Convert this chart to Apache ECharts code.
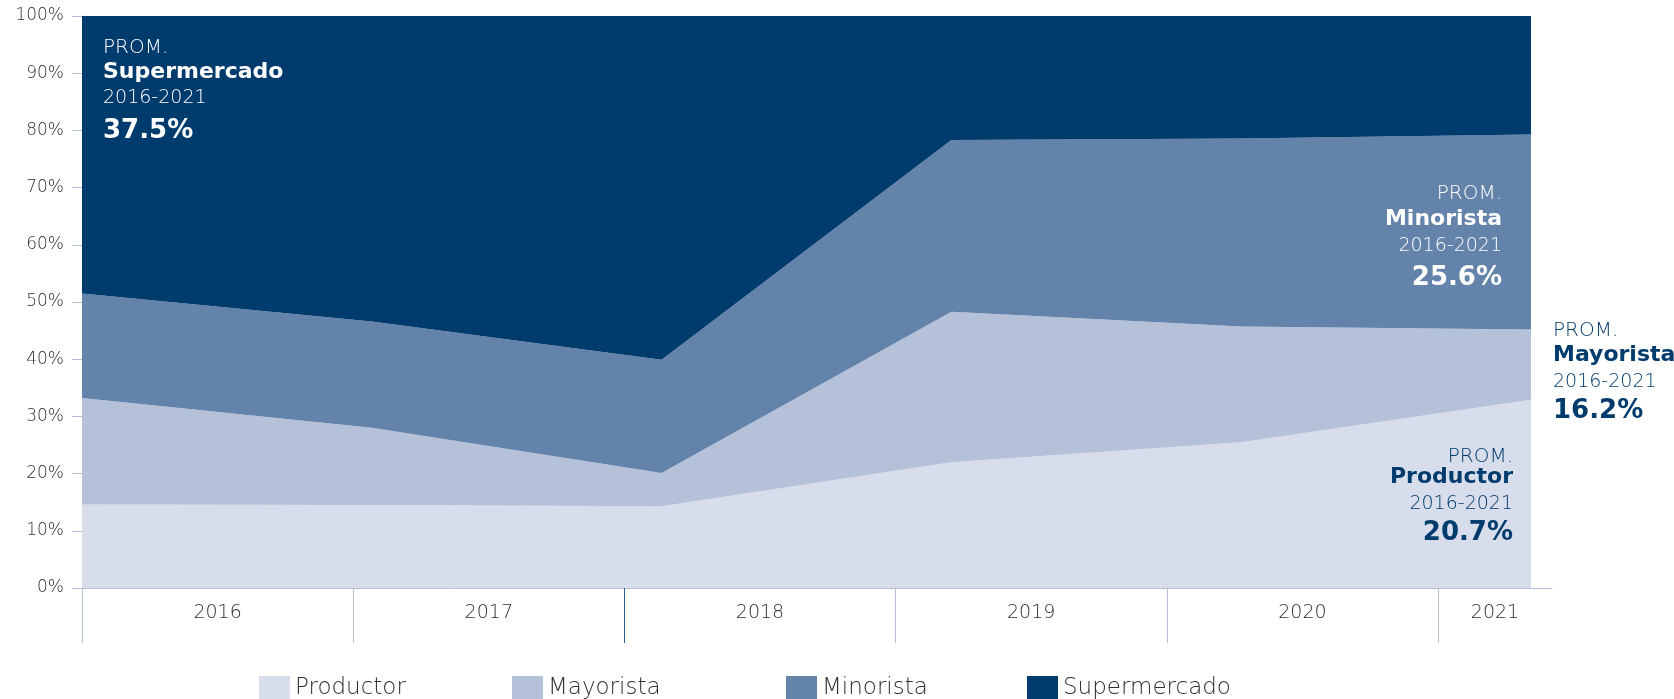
<!DOCTYPE html>
<html>
<head>
<meta charset="utf-8">
<script src="https://cdn.jsdelivr.net/npm/echarts@6/dist/echarts.min.js"></script>
<style>
  html, body { margin: 0; padding: 0; background: #fff; }
  #chart { width: 1674px; height: 699px; }
</style>
</head>
<body>
<div id="chart"></div>
<script>
// datos (% por canal)
const years = ['2016', '2017', '2018', '2019', '2020', '2021'];
const productor = [14.6, 14.5, 14.3, 22.0, 25.5, 32.9];
const mayorista = [18.6, 13.5, 5.8, 26.3, 20.2, 12.3];
const minorista = [18.3, 18.6, 19.8, 30.0, 32.9, 34.1];
const supermercado = [48.5, 53.4, 60.1, 21.7, 21.4, 20.7];
const names = ['Productor', 'Mayorista', 'Minorista', 'Supermercado'];
const promedios = ['20.7%', '16.2%', '25.6%', '37.5%'];
const periodo = '2016-2021';

const colors = ['#d7ddea', '#b5c1d9', '#6383aa', '#003b6d'];
const navy = '#003b6d';
const axisColor = '#b5c1d8';
const labelColor = '#2e2e2e';
const font = '"DejaVu Sans", sans-serif';

// eje de años: bandas de ancho fijo, la ultima recortada
const band = 271.2;
const axisWidth = 1470;
const bandMax = axisWidth / band;
const tickVals = years.map((y, i) => i);
const labelVals = years.map((y, i) => i < years.length - 1 ? i + 0.5 : (i + bandMax) / 2);

const chart = echarts.init(document.getElementById('chart'));

// bloque de texto "PROM."
function note(x, ys, align, color, name, avg) {
  const txt = [['PROM.', '200 20px'], [name, 'bold 22px'], [periodo, '200 19px'], [avg, 'bold 26px']];
  return txt.map((t, i) => ({
    type: 'text', x: x, y: ys[i], z: 100,
    style: {
      text: t[0], fill: color, font: t[1] + ' ' + font,
      align: align, textAlign: align, verticalAlign: 'middle', textVerticalAlign: 'middle'
    }
  }));
}

const seriesData = [productor, mayorista, minorista, supermercado];

function legendItem(i, left) {
  return {
    data: [names[i]], left: left, top: 676, padding: 0, icon: 'rect',
    itemWidth: 31, itemHeight: 24, itemGap: 0, selectedMode: false,
    textStyle: { fontSize: 23, color: labelColor, fontFamily: font, fontWeight: 200 }
  };
}

chart.setOption({
  animation: false,
  grid: [
    { left: 82, top: 16, width: 1449, height: 572, outerBoundsMode: 'none' },
    { left: 82, top: 16, width: axisWidth, height: 572, outerBoundsMode: 'none' }
  ],
  xAxis: [
    { type: 'category', gridIndex: 0, data: years, boundaryGap: false, show: false },
    {
      type: 'value', gridIndex: 1, min: 0, max: bandMax, position: 'bottom',
      axisLine: { show: true, onZero: false, lineStyle: { color: axisColor } },
      axisTick: { show: true, length: 55, customValues: tickVals, lineStyle: { color: axisColor } },
      axisLabel: {
        show: true, customValues: labelVals, color: labelColor, fontSize: 19, margin: 16,
        fontFamily: font, fontWeight: 200,
        formatter: v => years[Math.floor(v)]
      },
      splitLine: { show: false }
    },
    {
      // la marca antes de 2018 va en azul oscuro
      type: 'value', gridIndex: 1, min: 0, max: bandMax, position: 'bottom',
      axisLine: { show: false, onZero: false },
      axisTick: { show: true, length: 55, customValues: [2], lineStyle: { color: '#2b5d8f' } },
      axisLabel: { show: false },
      splitLine: { show: false }
    }
  ],
  yAxis: [
    {
      type: 'value', gridIndex: 0, min: 0, max: 100, interval: 10,
      axisLine: { show: true, lineStyle: { color: axisColor } },
      axisTick: { show: true, length: 10, lineStyle: { color: axisColor } },
      axisLabel: { formatter: '{value}%', color: labelColor, fontSize: 17, margin: 18, fontFamily: font, fontWeight: 200 },
      splitLine: { show: false }
    },
    { type: 'value', gridIndex: 1, min: 0, max: 100, show: false }
  ],
  legend: [legendItem(0, 259), legendItem(1, 512), legendItem(2, 786), legendItem(3, 1027)],
  series: names.map((n, i) => ({
    name: n, type: 'line', stack: 'total', data: seriesData[i],
    xAxisIndex: 0, yAxisIndex: 0,
    symbol: 'none', color: colors[i],
    lineStyle: { width: 0 },
    areaStyle: { color: colors[i], opacity: 1 }
  })),
  graphic: [].concat(
    note(103, [48, 72, 98, 131], 'left', '#fff', names[3], promedios[3]),
    note(1502, [194, 219, 246, 278], 'right', '#fff', names[2], promedios[2]),
    note(1553, [331, 355, 382, 411], 'left', navy, names[1], promedios[1]),
    note(1513, [457, 477, 504, 533], 'right', navy, names[0], promedios[0])
  )
});
</script>
</body>
</html>
